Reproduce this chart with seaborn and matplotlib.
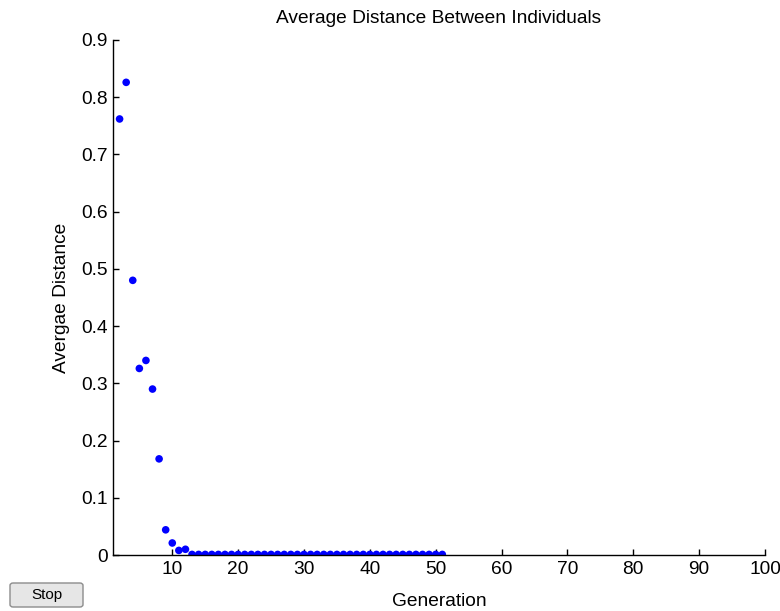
import matplotlib
matplotlib.use("Agg")
import matplotlib.pyplot as plt
from matplotlib.patches import FancyBboxPatch
import seaborn as sns
import pandas as pd

# Generation numbers and the average distance recorded at each one
generations = list(range(2, 52))
avg_distance = [
    0.762, 0.826, 0.480, 0.326, 0.340, 0.290, 0.168, 0.044, 0.021, 0.008,
    0.010, 0.001, 0.001, 0.001, 0.001, 0.001, 0.001, 0.001, 0.001, 0.001,
    0.001, 0.001, 0.001, 0.001, 0.001, 0.001, 0.001, 0.001, 0.001, 0.001,
    0.001, 0.001, 0.001, 0.001, 0.001, 0.001, 0.001, 0.001, 0.001, 0.001,
    0.001, 0.001, 0.001, 0.001, 0.001, 0.001, 0.001, 0.001, 0.001, 0.001,
]

x_ticks = [10, 20, 30, 40, 50, 60, 70, 80, 90, 100]
y_ticks = [0, 0.1, 0.2, 0.3, 0.4, 0.5, 0.6, 0.7, 0.8, 0.9]
y_tick_labels = ["0", "0.1", "0.2", "0.3", "0.4", "0.5", "0.6", "0.7", "0.8", "0.9"]

df = pd.DataFrame({"Generation": generations, "Distance": avg_distance})

sns.set_style("ticks")
plt.rcParams["font.family"] = ["Liberation Sans", "DejaVu Sans"]
plt.rcParams["text.color"] = "black"
plt.rcParams["axes.labelcolor"] = "black"

FS = 13.8
W, H = 780, 611
fig = plt.figure(figsize=(W / 100, H / 100), dpi=100)
fig.patch.set_facecolor("white")

left, right, top, bottom = 113, 765, 40, 555
ax = fig.add_axes([left / W, 1 - bottom / H, (right - left) / W, (bottom - top) / H])

sns.scatterplot(data=df, x="Generation", y="Distance", ax=ax,
                color="#0000ff", s=30, linewidth=0, edgecolor="none", legend=False)

ax.set_xlim(1, 100)
ax.set_ylim(0, 0.9)
ax.set_xticks(x_ticks)
ax.set_xticklabels([str(t) for t in x_ticks])
ax.set_yticks(y_ticks)
ax.set_yticklabels(y_tick_labels)

ax.tick_params(axis="both", direction="in", length=4, width=1, color="black",
               labelsize=FS, labelcolor="black", pad=4)
for side in ("top", "right"):
    ax.spines[side].set_visible(False)
for side in ("left", "bottom"):
    ax.spines[side].set_color("black")
    ax.spines[side].set_linewidth(1)

ax.set_title("Average Distance Between Individuals", fontsize=FS, pad=12, color="black")
ax.set_xlabel("Generation", fontsize=FS, labelpad=11)
ax.set_ylabel("Avergae Distance", fontsize=FS, labelpad=8)
ax.set_facecolor("white")

# Stop button in the lower-left corner
bx0, by0, bw, bh = 10, 583, 73, 24
button = FancyBboxPatch((bx0 / W, 1 - (by0 + bh) / H), bw / W, bh / H,
                        boxstyle="round,pad=0,rounding_size=0.004",
                        transform=fig.transFigure, facecolor="#e6e6e6",
                        edgecolor="#8c8c8c", linewidth=1)
fig.patches.append(button)
fig.text((bx0 + bw / 2) / W, 1 - (by0 + bh / 2) / H, "Stop",
         ha="center", va="center", fontsize=11, color="black")

fig.savefig("out.png", dpi=100, facecolor="white")
